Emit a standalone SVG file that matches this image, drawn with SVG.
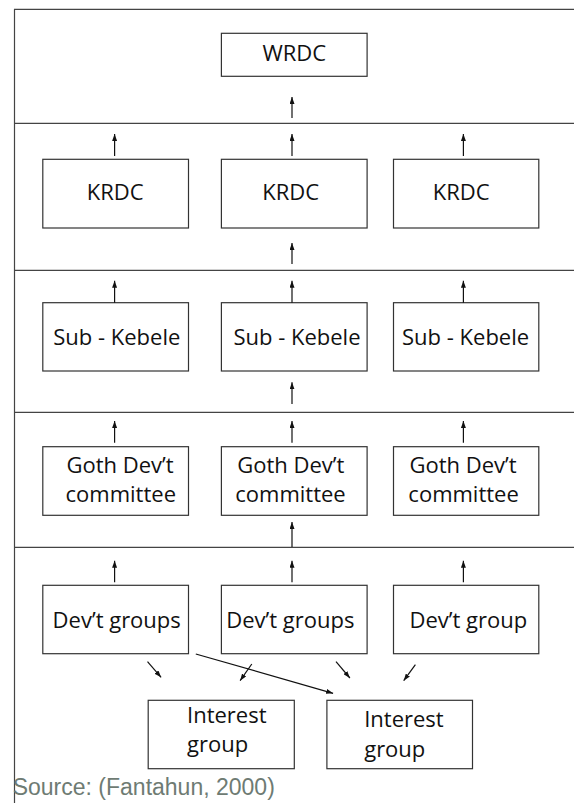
<svg xmlns="http://www.w3.org/2000/svg" width="574" height="803" viewBox="0 0 574 803">
<defs>
<style>
.box{fill:#fff;stroke:#333;stroke-width:1.2}
.sep{stroke:#444;stroke-width:1.2;fill:none}
.lbl{font-family:"Open Sans","Noto Sans",sans-serif;font-size:22px;fill:#111;text-anchor:middle}
.lbl-l{font-family:"Open Sans","Noto Sans",sans-serif;font-size:22px;fill:#111}
.arr{stroke:#111;stroke-width:1.2;fill:none;marker-end:url(#ah)}
.src{font-family:"Liberation Sans",Arial,sans-serif;font-size:23px;fill:#6e7b73}
</style>
<marker id="ah" viewBox="0 0 7 5" markerWidth="7" markerHeight="5" refX="7" refY="2.5" orient="auto" markerUnits="userSpaceOnUse">
<path d="M0,0 L7,2.5 L0,5 z" fill="#111"/>
</marker>
</defs>
<rect width="574" height="803" fill="#fff"/>
<g id="frame">
<line class="sep" x1="14.5" y1="9.3" x2="14.5" y2="803"/>
<line class="sep" x1="14" y1="9.3" x2="574" y2="9.3"/>
<line class="sep" x1="14" y1="123.3" x2="574" y2="123.3"/>
<line class="sep" x1="14" y1="270.3" x2="574" y2="270.3"/>
<line class="sep" x1="14" y1="412.3" x2="574" y2="412.3"/>
<line class="sep" x1="14" y1="547.3" x2="574" y2="547.3"/>
</g>
<g id="wrdc"><rect class="box" x="221.4" y="33.3" width="145.7" height="43"/><text class="lbl" x="294.3" y="61">WRDC</text></g>
<g id="krdc1"><rect class="box" x="42.8" y="159.3" width="145.7" height="68.7"/><text class="lbl" x="115.2" y="200">KRDC</text></g>
<g id="krdc2"><rect class="box" x="221.4" y="159.3" width="145.7" height="68.7"/><text class="lbl" x="290.6" y="200">KRDC</text></g>
<g id="krdc3"><rect class="box" x="393.5" y="159.3" width="145.3" height="68.7"/><text class="lbl" x="461.2" y="200">KRDC</text></g>
<g id="sub1"><rect class="box" x="42.8" y="302.7" width="145.7" height="68.3"/><text class="lbl" x="116.8" y="345">Sub - Kebele</text></g>
<g id="sub2"><rect class="box" x="221.4" y="302.7" width="145.7" height="68.3"/><text class="lbl" x="297" y="345">Sub - Kebele</text></g>
<g id="sub3"><rect class="box" x="393.5" y="302.7" width="145.3" height="68.3"/><text class="lbl" x="465.6" y="345">Sub - Kebele</text></g>
<g id="goth1"><rect class="box" x="42.8" y="446.7" width="145.7" height="68.6"/><text class="lbl" x="120" y="473.3">Goth Dev’t</text><text class="lbl" x="120.8" y="501.7">committee</text></g>
<g id="goth2"><rect class="box" x="221.4" y="446.7" width="145.7" height="68.6"/><text class="lbl" x="290.8" y="473.3">Goth Dev’t</text><text class="lbl" x="290.5" y="501.7">committee</text></g>
<g id="goth3"><rect class="box" x="393.5" y="446.7" width="145.3" height="68.6"/><text class="lbl" x="463" y="473.3">Goth Dev’t</text><text class="lbl" x="463.6" y="501.7">committee</text></g>
<g id="dev1"><rect class="box" x="42.8" y="585.3" width="145.7" height="68.4"/><text class="lbl" x="116.7" y="628.3">Dev’t groups</text></g>
<g id="dev2"><rect class="box" x="221.4" y="585.3" width="145.7" height="68.4"/><text class="lbl" x="290.3" y="628.3">Dev’t groups</text></g>
<g id="dev3"><rect class="box" x="393.5" y="585.3" width="145.3" height="68.4"/><text class="lbl" x="468.4" y="628.3">Dev’t group</text></g>
<g id="int1"><rect class="box" x="148.2" y="700.3" width="146.1" height="68.4"/><text class="lbl-l" x="187" y="723.3">Interest</text><text class="lbl-l" x="187" y="751.7">group</text></g>
<g id="int2"><rect class="box" x="326.9" y="700.3" width="145.6" height="68.4"/><text class="lbl-l" x="364.2" y="727.3">Interest</text><text class="lbl-l" x="364.2" y="756.7">group</text></g>
<g id="connectors">
<line class="arr" x1="292" y1="118" x2="292" y2="97"/>
<line class="arr" x1="114.6" y1="156" x2="114.6" y2="134"/>
<line class="arr" x1="292" y1="156" x2="292" y2="134"/>
<line class="arr" x1="463.4" y1="156" x2="463.4" y2="134"/>
<line class="arr" x1="292" y1="264" x2="292" y2="243"/>
<line class="arr" x1="114.6" y1="302.7" x2="114.6" y2="280.7"/>
<line class="arr" x1="292" y1="302.7" x2="292" y2="280.7"/>
<line class="arr" x1="463.4" y1="302.7" x2="463.4" y2="280.7"/>
<line class="arr" x1="292" y1="404" x2="292" y2="382.3"/>
<line class="arr" x1="114.6" y1="442.7" x2="114.6" y2="421"/>
<line class="arr" x1="292" y1="442.7" x2="292" y2="421"/>
<line class="arr" x1="463.4" y1="442.7" x2="463.4" y2="421"/>
<line class="arr" x1="292" y1="547" x2="292" y2="522"/>
<line class="arr" x1="114.6" y1="582.3" x2="114.6" y2="560.7"/>
<line class="arr" x1="292" y1="582.3" x2="292" y2="560.7"/>
<line class="arr" x1="463.4" y1="582.3" x2="463.4" y2="560.7"/>
<line class="arr" x1="147.5" y1="661.7" x2="161.1" y2="677.3"/>
<line class="arr" x1="251.8" y1="664" x2="240.1" y2="680.7"/>
<line class="arr" x1="195.8" y1="654" x2="333.1" y2="693.3"/>
<line class="arr" x1="336" y1="661.7" x2="349.9" y2="678"/>
<line class="arr" x1="415.4" y1="664.7" x2="403.7" y2="680.7"/>
</g>
<text class="src" x="12.7" y="795">Source: (Fantahun, 2000)</text>
</svg>
